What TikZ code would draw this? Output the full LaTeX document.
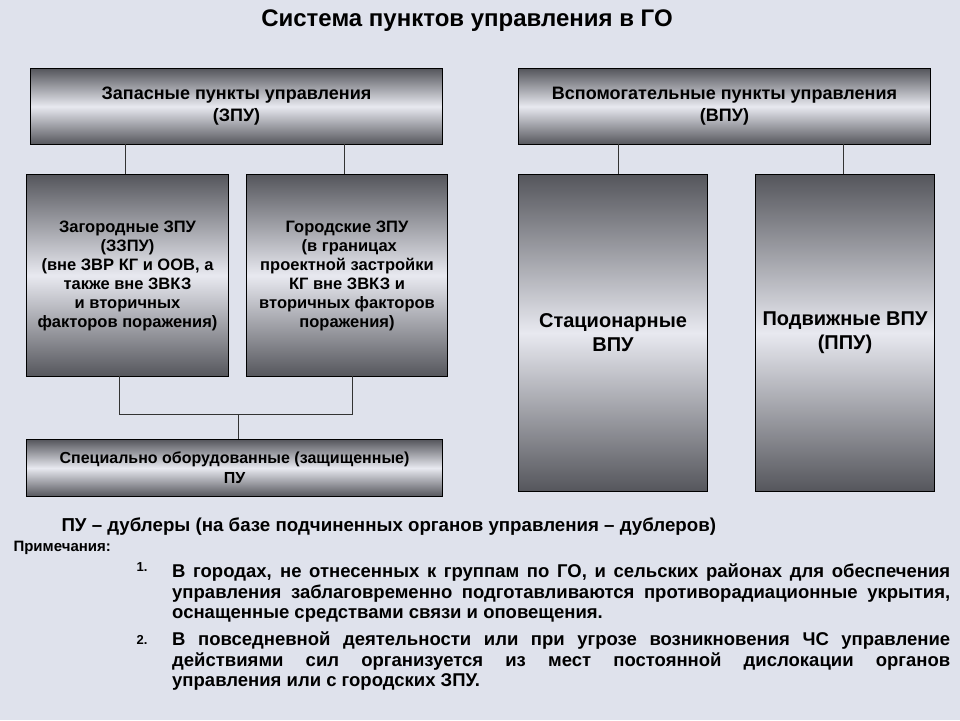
\documentclass[tikz,border=0pt]{standalone}
\usepackage{fontspec}
\setmainfont{Liberation Sans}
\usetikzlibrary{shadings}
\definecolor{bg}{HTML}{DFE2EC}
\definecolor{boxdark}{HTML}{55565C}
\definecolor{boxlight}{HTML}{E8E9F0}
\tikzset{
  gbox/.style={draw=black, line width=1pt, top color=boxdark, bottom color=boxdark, middle color=boxlight, align=center, font=\fontsize{18}{22}\selectfont\bfseries, inner sep=2pt},
  conn/.style={line width=0.9pt, draw=black!80},
  para/.style={anchor=north west, inner sep=0pt, align=left, font=\fontsize{18.5}{20.5}\selectfont\bfseries},
}
\newcommand{\jl}[1]{\makebox[778pt][s]{#1}}
\begin{document}
\begin{tikzpicture}[x=1pt,y=-1pt]
\fill[bg] (0,0) rectangle (960,720);
\useasboundingbox (0,0) rectangle (960,720);
\node[font=\fontsize{24}{28}\selectfont\bfseries] (title) at (467,21) {Система пунктов управления в ГО};
\node[gbox, minimum width=412pt, minimum height=76pt, anchor=north west] (zpu) at (30,68) {Запасные пункты управления\\(ЗПУ)};
\node[gbox, minimum width=412pt, minimum height=76pt, anchor=north west] (vpu) at (518,68) {Вспомогательные пункты управления\\(ВПУ)};
\node[gbox, minimum width=202pt, minimum height=202pt, anchor=north west, font=\fontsize{16.5}{19}\selectfont\bfseries] (zag) at (26,174) {Загородные ЗПУ\\(ЗЗПУ)\\(вне ЗВР КГ и ООВ, а\\также вне ЗВКЗ\\и вторичных\\факторов поражения)};
\node[gbox, minimum width=201pt, minimum height=202pt, anchor=north west, font=\fontsize{16.5}{19}\selectfont\bfseries] (gor) at (246,174) {Городские ЗПУ\\\ (в границах\\проектной застройки\\КГ вне ЗВКЗ и\\вторичных факторов\\поражения)};
\node[gbox, minimum width=189pt, minimum height=317pt, anchor=north west, font=\fontsize{20}{24}\selectfont\bfseries] (stat) at (518,174) {Стационарные\\ВПУ};
\node[gbox, minimum width=179pt, minimum height=317pt, anchor=north west, font=\fontsize{20}{24}\selectfont\bfseries] (mob) at (755,174) {Подвижные ВПУ\\(ППУ)};
\node[gbox, minimum width=416pt, minimum height=57pt, anchor=north west, font=\fontsize{16}{20}\selectfont\bfseries] (spec) at (26,439) {Специально оборудованные (защищенные)\\ПУ};
\draw[conn] (125,144) -- (125,174);
\draw[conn] (344,144) -- (344,174);
\draw[conn] (618,144) -- (618,174);
\draw[conn] (843,144) -- (843,174);
\coordinate (j1) at (119,414);
\coordinate (j2) at (352,414);
\coordinate (j3) at (238,414);
\draw[conn] (119,376) -- (j1) -- (j2) -- (352,376);
\draw[conn] (j3) -- (238,439);
\node[anchor=west, font=\fontsize{18.7}{22}\selectfont\bfseries] (dub) at (58,527) {ПУ – дублеры (на базе подчиненных органов управления – дублеров)};
\node[anchor=west, font=\fontsize{15}{18}\selectfont\bfseries] (prim) at (10,548) {Примечания:};
\node[anchor=west, font=\fontsize{13}{16}\selectfont\bfseries] (n1) at (133,567) {1.};
\node[para] (p1) at (172,564) {\jl{В городах, не отнесенных к группам по ГО, и сельских районах для обеспечения}\\\jl{управления заблаговременно подготавливаются противорадиационные укрытия,}\\оснащенные средствами связи и оповещения.};
\node[anchor=west, font=\fontsize{13}{16}\selectfont\bfseries] (n2) at (133,640) {2.};
\node[para] (p2) at (172,632) {\jl{В повседневной деятельности или при угрозе возникновения ЧС управление}\\\jl{действиями сил организуется из мест постоянной дислокации органов}\\управления или с городских ЗПУ.};
\end{tikzpicture}
\end{document}
